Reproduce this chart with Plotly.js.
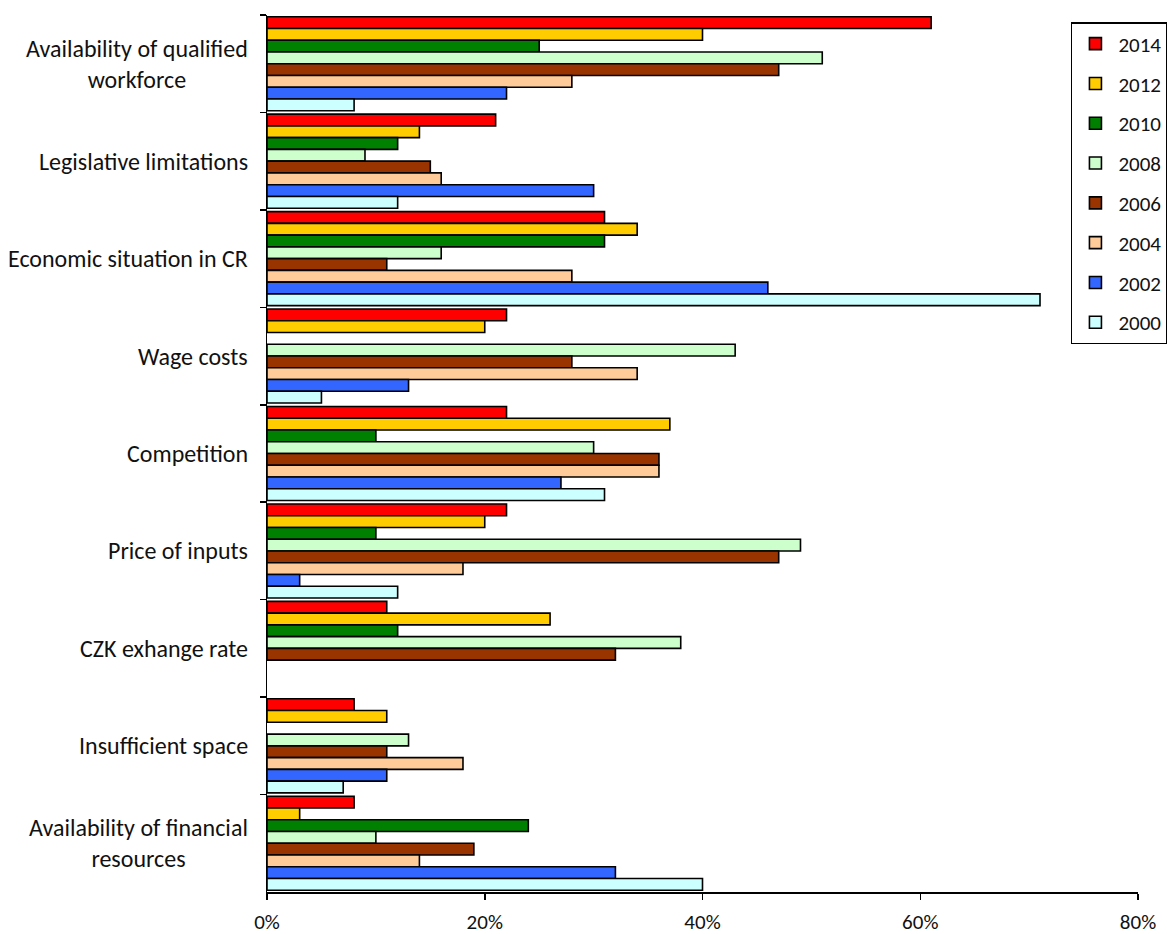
<!DOCTYPE html>
<html>
<head>
<meta charset="utf-8">
<script src="https://cdn.plot.ly/plotly-3.0.1.min.js"></script>
<style>
  html, body { margin: 0; padding: 0; background: #ffffff; }
  #chart { width: 1167px; height: 934px; }
</style>
</head>
<body>
<div id="chart"></div>
<script>
// Barriers to business development, share of respondents (%) by survey year
const categories = [
  "Availability of qualified<br>workforce",
  "Legislative limitations",
  "Economic situation in CR",
  "Wage costs",
  "Competition",
  "Price of inputs",
  "CZK exhange rate",
  "Insufficient space",
  "Availability of financial<br>resources"
];

const years = ["2014", "2012", "2010", "2008", "2006", "2004", "2002", "2000"];

const v2014 = [61, 21, 31, 22, 22, 22, 11, 8, 8];
const v2012 = [40, 14, 34, 20, 37, 20, 26, 11, 3];
const v2010 = [25, 12, 31, null, 10, 10, 12, null, 24];
const v2008 = [51, 9, 16, 43, 30, 49, 38, 13, 10];
const v2006 = [47, 15, 11, 28, 36, 47, 32, 11, 19];
const v2004 = [28, 16, 28, 34, 36, 18, null, 18, 14];
const v2002 = [22, 30, 46, 13, 27, 3, null, 11, 32];
const v2000 = [8, 12, 71, 5, 31, 12, null, 7, 40];

const seriesValues = [v2014, v2012, v2010, v2008, v2006, v2004, v2002, v2000];
const colors = ["#ff0000", "#ffcc00", "#008000", "#ccffcc", "#993300", "#ffcc99", "#3366ff", "#ccffff"];

const xTickVals = [0, 20, 40, 60, 80];
const xTickText = ["0%", "20%", "40%", "60%", "80%"];

const fontFamily = "Carlito, Calibri, Lato, sans-serif";

const traces = years.map((yr, i) => ({
  type: "bar",
  orientation: "h",
  name: yr,
  legendgroup: yr,
  x: seriesValues[i],
  y: categories,
  marker: { color: colors[i], line: { color: "#000000", width: 1.6 } },
  hovertemplate: "%{y}: %{x}%<extra>" + yr + "</extra>"
}));

// category names, centred line by line to the left of the axis
const annotations = categories.map(c => ({
  xref: "paper", yref: "y",
  x: 0, y: c,
  xanchor: "right", yanchor: "middle",
  xshift: -17,
  text: c,
  align: "center",
  showarrow: false,
  font: { family: fontFamily, size: 24, color: "#111111" }
}));

const layout = {
  width: 1167,
  height: 934,
  margin: { l: 267, r: 29, t: 15, b: 42, autoexpand: false },
  paper_bgcolor: "#ffffff",
  plot_bgcolor: "#ffffff",
  barmode: "group",
  bargap: 0.035,
  bargroupgap: 0,
  showlegend: true,
  legend: {
    x: 0.923, y: 0.992,
    xanchor: "left", yanchor: "top",
    bgcolor: "#ffffff",
    bordercolor: "#000000",
    borderwidth: 1.5,
    traceorder: "grouped",
    tracegroupgap: 9.5,
    itemwidth: 36,
    font: { family: fontFamily, size: 21, color: "#111111" }
  },
  xaxis: {
    range: [0, 80],
    tickmode: "array",
    tickvals: xTickVals,
    ticktext: xTickText,
    ticks: "outside",
    ticklen: 6,
    tickwidth: 1.5,
    tickcolor: "#000000",
    ticklabelstandoff: 4,
    automargin: false,
    showline: true,
    linecolor: "#000000",
    linewidth: 1.5,
    showgrid: false,
    zeroline: false,
    tickfont: { family: fontFamily, size: 21, color: "#111111" },
    fixedrange: true
  },
  yaxis: {
    type: "category",
    autorange: "reversed",
    tickson: "boundaries",
    ticks: "outside",
    ticklen: 6,
    tickwidth: 1.5,
    tickcolor: "#000000",
    showticklabels: false,
    automargin: false,
    showline: true,
    linecolor: "#000000",
    linewidth: 1.5,
    showgrid: false,
    zeroline: false,
    fixedrange: true
  },
  annotations: annotations
};

Plotly.newPlot("chart", traces, layout, { displayModeBar: false, staticPlot: true });
</script>
</body>
</html>
